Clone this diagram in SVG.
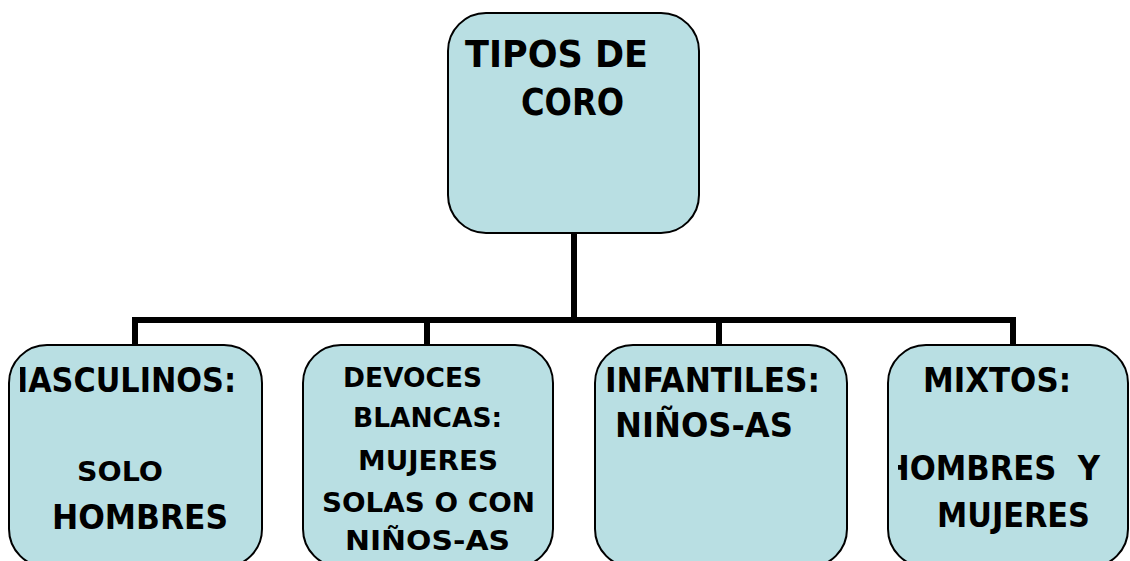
<svg xmlns="http://www.w3.org/2000/svg" width="1130" height="561" viewBox="0 0 1130 561">
  <style>
    .box { fill: #b9dfe3; stroke: #000; stroke-width: 2; }
    .conn { stroke: #000; stroke-width: 6; fill: none; stroke-linecap: butt; }
    .t { font-family: "DejaVu Sans", "Liberation Sans", sans-serif; font-weight: bold; fill: #000; }
    .xl { font-size: 37px; }
    .lg { font-size: 34px; }
    .md { font-size: 27px; }
  </style>
  <defs>
    <clipPath id="clip1"><rect x="20" y="345" width="242" height="220"/></clipPath>
    <clipPath id="clip4"><rect x="898" y="345" width="230" height="220"/></clipPath>
  </defs>
  <rect width="1130" height="561" fill="#fff"/>
  <g id="connectors">
    <line class="conn" x1="574" y1="233" x2="574" y2="320"/>
    <line class="conn" x1="132" y1="320" x2="1016" y2="320"/>
    <line class="conn" x1="135" y1="317" x2="135" y2="345"/>
    <line class="conn" x1="427" y1="317" x2="427" y2="345"/>
    <line class="conn" x1="719" y1="317" x2="719" y2="345"/>
    <line class="conn" x1="1013" y1="317" x2="1013" y2="345"/>
  </g>
  <g id="tipos">
    <rect class="box" x="448" y="13" width="251" height="220" rx="38" ry="38"/>
    <text class="t xl" x="465" y="67" textLength="183" lengthAdjust="spacingAndGlyphs">TIPOS DE</text>
    <text class="t xl" x="521" y="115" textLength="103" lengthAdjust="spacingAndGlyphs">CORO</text>
  </g>
  <g id="masculinos">
    <rect class="box" x="9" y="345" width="253" height="222" rx="38" ry="38"/>
    <g clip-path="url(#clip1)">
      <text class="t lg" x="-2" y="392" textLength="238" lengthAdjust="spacingAndGlyphs">MASCULINOS:</text>
    </g>
    <text class="t md" x="77" y="481" textLength="86" lengthAdjust="spacingAndGlyphs">SOLO</text>
    <text class="t lg" x="52" y="529" textLength="176" lengthAdjust="spacingAndGlyphs">HOMBRES</text>
  </g>
  <g id="devoces">
    <rect class="box" x="303" y="345" width="250" height="222" rx="38" ry="38"/>
    <text class="t md" x="343" y="387" textLength="139" lengthAdjust="spacingAndGlyphs">DEVOCES</text>
    <text class="t md" x="353" y="427" textLength="149" lengthAdjust="spacingAndGlyphs">BLANCAS:</text>
    <text class="t md" x="358" y="470" textLength="140" lengthAdjust="spacingAndGlyphs">MUJERES</text>
    <text class="t md" x="322" y="512" textLength="213" lengthAdjust="spacingAndGlyphs">SOLAS O CON</text>
    <text class="t md" x="345" y="550" textLength="165" lengthAdjust="spacingAndGlyphs">NIÑOS-AS</text>
  </g>
  <g id="infantiles">
    <rect class="box" x="595" y="345" width="252" height="222" rx="38" ry="38"/>
    <text class="t lg" x="605" y="392" textLength="215" lengthAdjust="spacingAndGlyphs">INFANTILES:</text>
    <text class="t lg" x="615" y="437" textLength="178" lengthAdjust="spacingAndGlyphs">NIÑOS-AS</text>
  </g>
  <g id="mixtos">
    <rect class="box" x="888" y="345" width="240" height="222" rx="38" ry="38"/>
    <text class="t lg" x="923" y="392" textLength="148" lengthAdjust="spacingAndGlyphs">MIXTOS:</text>
    <g clip-path="url(#clip4)">
      <text class="t lg" x="884" y="480" textLength="216" lengthAdjust="spacingAndGlyphs" xml:space="preserve">HOMBRES  Y</text>
    </g>
    <text class="t lg" x="937" y="527" textLength="153" lengthAdjust="spacingAndGlyphs">MUJERES</text>
  </g>
</svg>
